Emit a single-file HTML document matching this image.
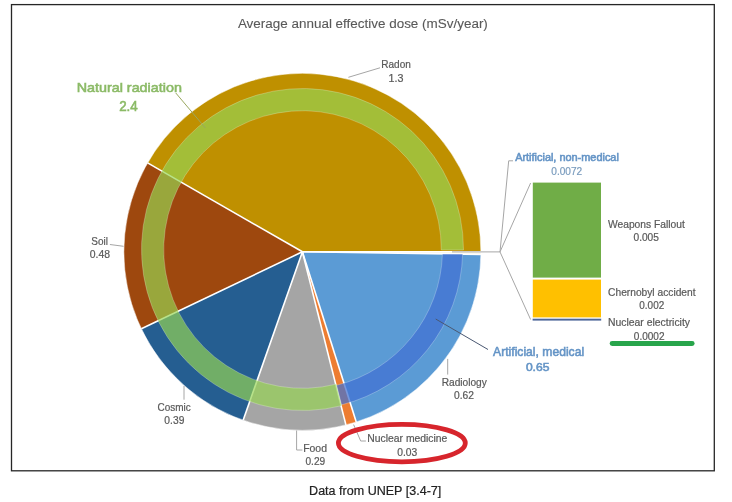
<!DOCTYPE html>
<html><head><meta charset="utf-8"><style>
html,body{margin:0;padding:0;background:#fff;}
svg{display:block;font-family:"Liberation Sans",sans-serif;filter:blur(0.35px);}
</style></head><body>
<svg width="732" height="502" viewBox="0 0 732 502">
<rect x="0" y="0" width="732" height="502" fill="#fff"/>
<rect x="11.5" y="4.6" width="702.8" height="466.2" fill="none" stroke="#262626" stroke-width="1.3"/>
<g><path d="M302.40,251.80 L480.90,251.80 A178.5,178.5 0 0 0 147.61,162.91 Z" fill="#BF9000"/><path d="M302.40,251.80 L147.61,162.91 A178.5,178.5 0 0 0 141.38,328.84 Z" fill="#9E480E"/><path d="M302.40,251.80 L141.38,328.84 A178.5,178.5 0 0 0 243.14,420.18 Z" fill="#255E91"/><path d="M302.40,251.80 L243.14,420.18 A178.5,178.5 0 0 0 345.89,424.92 Z" fill="#A5A5A5"/><path d="M302.40,251.80 L345.89,424.92 A178.5,178.5 0 0 0 356.27,421.98 Z" fill="#ED7D31"/><path d="M302.40,251.80 L356.27,421.98 A178.5,178.5 0 0 0 480.88,254.39 Z" fill="#5B9BD5"/><path d="M302.40,251.80 L480.88,254.39 A178.5,178.5 0 0 0 480.90,251.80 Z" fill="#F4EFD8"/></g>
<g stroke="#fff" stroke-width="1.6"><line x1="302.4" y1="251.8" x2="480.90" y2="251.80"/><line x1="302.4" y1="251.8" x2="147.61" y2="162.91"/><line x1="302.4" y1="251.8" x2="141.38" y2="328.84"/><line x1="302.4" y1="251.8" x2="243.14" y2="420.18"/><line x1="302.4" y1="251.8" x2="345.89" y2="424.92"/><line x1="302.4" y1="251.8" x2="356.27" y2="421.98"/><line x1="302.4" y1="251.8" x2="480.88" y2="254.39"/></g>
<circle cx="302.4" cy="251.8" r="178.5" fill="none" stroke="#fff" stroke-width="0.8" stroke-opacity="0.6"/>
<g><path d="M463.50,250.00 A161.0,161.0 0 1 0 341.73,405.65 L336.32,384.12 A138.8,138.8 0 1 1 441.30,250.00 Z" fill="#96D452" fill-opacity="0.68" stroke="#fff" stroke-opacity="0.3" stroke-width="0.8"/><path d="M341.53,404.87 A160.2,160.2 0 0 0 462.64,254.00 L442.43,254.00 A140.0,140.0 0 0 1 336.61,385.28 Z" fill="#4170D2" fill-opacity="0.72" stroke="#fff" stroke-opacity="0.3" stroke-width="0.8"/></g>
<g fill="none" stroke-width="1"><polyline points="380,67.8 348.4,77.3" stroke="#A6A6A6"/><polyline points="175.8,93 205.4,128" stroke="#9AA860"/><polyline points="109.9,244.5 123.6,246.3" stroke="#A6A6A6"/><polyline points="184,399.7 184,386" stroke="#A6A6A6"/><polyline points="302.4,450 296.6,450 296.6,430.5" stroke="#A6A6A6"/><polyline points="365.9,441 360.7,441 353.6,424.6" stroke="#A6A6A6"/><polyline points="447.7,374.6 447.7,358.9" stroke="#A6A6A6"/><polyline points="488,349.5 435.7,319" stroke="#4A5872"/><polyline points="452,251.9 500,251.9" stroke="#A6A6A6"/><polyline points="500,251.9 530.6,183" stroke="#A6A6A6"/><polyline points="500,251.9 530.6,319.5" stroke="#A6A6A6"/><polyline points="500,251.9 508.7,160.8 513,160.8" stroke="#A6A6A6"/></g>
<g><rect x="532.8" y="182.6" width="68.2" height="95" fill="#70AD47"/><rect x="532.8" y="279.6" width="68.2" height="37.8" fill="#FFC000"/><rect x="532.6" y="318.7" width="68.6" height="1.9" fill="#4D6699"/></g>
<g><text x="237.90" y="27.50" font-size="12.41" textLength="249.97" lengthAdjust="spacingAndGlyphs" fill="#595959" stroke="#595959" stroke-width="0.1" >Average annual effective dose (mSv/year)</text><text x="381.30" y="68.00" font-size="10.10" textLength="29.57" lengthAdjust="spacingAndGlyphs" fill="#595959" stroke="#595959" stroke-width="0.2" >Radon</text><text x="388.49" y="81.80" font-size="10.10" textLength="14.94" lengthAdjust="spacingAndGlyphs" fill="#595959" stroke="#595959" stroke-width="0.2" >1.3</text><text x="76.65" y="92.30" font-size="12.69" textLength="105.22" lengthAdjust="spacingAndGlyphs" fill="#8BBA66" stroke="#8BBA66" stroke-width="0.55" >Natural radiation</text><text x="119.13" y="110.50" font-size="13.71" textLength="18.57" lengthAdjust="spacingAndGlyphs" fill="#8BBA66" stroke="#8BBA66" stroke-width="0.55" >2.4</text><text x="91.25" y="244.60" font-size="10.10" textLength="16.62" lengthAdjust="spacingAndGlyphs" fill="#595959" stroke="#595959" stroke-width="0.2" >Soil</text><text x="89.78" y="258.10" font-size="10.10" textLength="20.25" lengthAdjust="spacingAndGlyphs" fill="#595959" stroke="#595959" stroke-width="0.2" >0.48</text><text x="157.60" y="410.90" font-size="10.10" textLength="33.23" lengthAdjust="spacingAndGlyphs" fill="#595959" stroke="#595959" stroke-width="0.2" >Cosmic</text><text x="164.39" y="424.40" font-size="10.10" textLength="19.99" lengthAdjust="spacingAndGlyphs" fill="#595959" stroke="#595959" stroke-width="0.2" >0.39</text><text x="303.16" y="451.70" font-size="10.10" textLength="23.81" lengthAdjust="spacingAndGlyphs" fill="#595959" stroke="#595959" stroke-width="0.2" >Food</text><text x="305.50" y="465.30" font-size="10.10" textLength="19.67" lengthAdjust="spacingAndGlyphs" fill="#595959" stroke="#595959" stroke-width="0.2" >0.29</text><text x="367.37" y="441.80" font-size="10.10" textLength="80.00" lengthAdjust="spacingAndGlyphs" fill="#595959" stroke="#595959" stroke-width="0.2" >Nuclear medicine</text><text x="397.29" y="455.60" font-size="10.10" textLength="20.04" lengthAdjust="spacingAndGlyphs" fill="#595959" stroke="#595959" stroke-width="0.2" >0.03</text><text x="441.69" y="385.70" font-size="10.10" textLength="45.14" lengthAdjust="spacingAndGlyphs" fill="#595959" stroke="#595959" stroke-width="0.2" >Radiology</text><text x="453.99" y="399.10" font-size="10.10" textLength="19.94" lengthAdjust="spacingAndGlyphs" fill="#595959" stroke="#595959" stroke-width="0.2" >0.62</text><text x="493.10" y="355.70" font-size="12.14" textLength="91.02" lengthAdjust="spacingAndGlyphs" fill="#6494C6" stroke="#6494C6" stroke-width="0.55" >Artificial, medical</text><text x="525.92" y="370.80" font-size="10.71" textLength="23.48" lengthAdjust="spacingAndGlyphs" fill="#6494C6" stroke="#6494C6" stroke-width="0.55" >0.65</text><text x="515.20" y="160.80" font-size="10.34" textLength="103.65" lengthAdjust="spacingAndGlyphs" fill="#6494C6" stroke="#6494C6" stroke-width="0.55" >Artificial, non-medical</text><text x="551.30" y="174.50" font-size="10.10" textLength="30.90" lengthAdjust="spacingAndGlyphs" fill="#7A9CBE" stroke="#7A9CBE" stroke-width="0.2" >0.0072</text><text x="607.95" y="227.80" font-size="10.10" textLength="76.91" lengthAdjust="spacingAndGlyphs" fill="#595959" stroke="#595959" stroke-width="0.2" >Weapons Fallout</text><text x="633.49" y="241.30" font-size="10.10" textLength="25.44" lengthAdjust="spacingAndGlyphs" fill="#595959" stroke="#595959" stroke-width="0.2" >0.005</text><text x="608.09" y="295.80" font-size="10.10" textLength="87.47" lengthAdjust="spacingAndGlyphs" fill="#595959" stroke="#595959" stroke-width="0.2" >Chernobyl accident</text><text x="639.30" y="309.30" font-size="10.10" textLength="24.92" lengthAdjust="spacingAndGlyphs" fill="#595959" stroke="#595959" stroke-width="0.2" >0.002</text><text x="607.97" y="325.80" font-size="10.10" textLength="82.05" lengthAdjust="spacingAndGlyphs" fill="#595959" stroke="#595959" stroke-width="0.2" >Nuclear electricity</text><text x="633.80" y="339.60" font-size="10.10" textLength="30.69" lengthAdjust="spacingAndGlyphs" fill="#595959" stroke="#595959" stroke-width="0.2" >0.0002</text><text x="309.10" y="495.10" font-size="12.00" textLength="132.20" lengthAdjust="spacingAndGlyphs" fill="#222222" stroke="#222222" stroke-width="0.2" >Data from UNEP [3.4-7]</text></g>
<ellipse cx="401.85" cy="443.1" rx="63.45" ry="18.7" fill="none" stroke="#D7252C" stroke-width="4.8"/>
<line x1="612.1" y1="343.5" x2="692.2" y2="343.5" stroke="#28A54B" stroke-width="4.8" stroke-linecap="round"/>
</svg>
</body></html>
